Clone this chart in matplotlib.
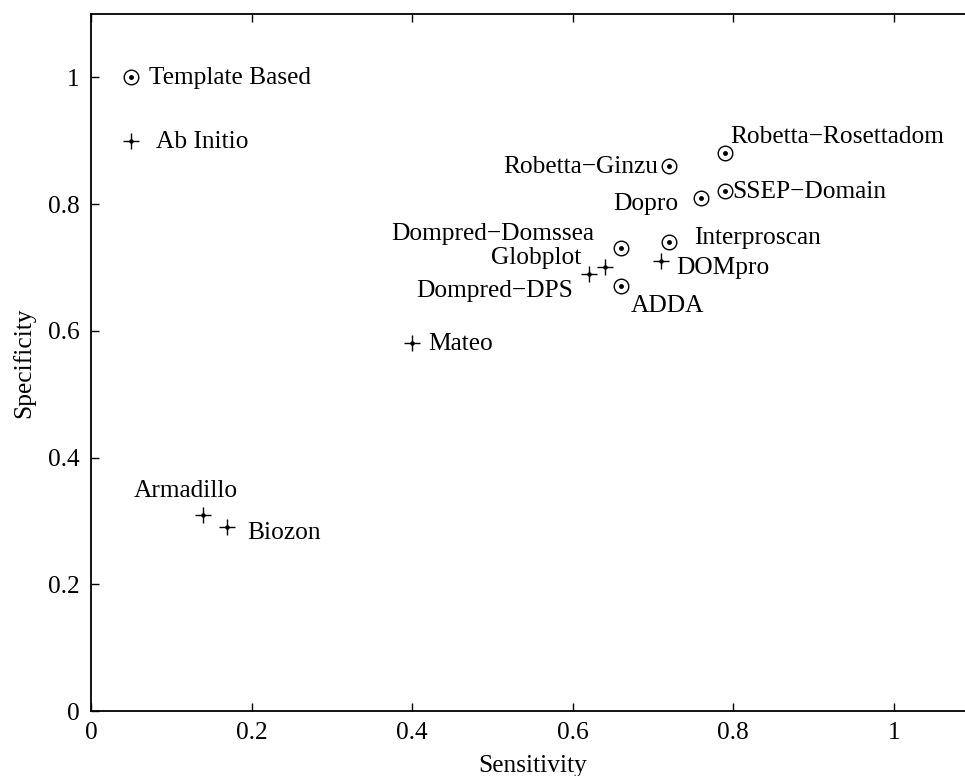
import matplotlib
matplotlib.use("Agg")
import matplotlib.pyplot as plt

plt.rcParams["font.family"] = ["Liberation Serif", "DejaVu Serif"]

# methods plotted with a dotted circle (template based)
tb_names = ["Template Based", "Robetta\u2212Ginzu", "Robetta\u2212Rosettadom", "Dopro",
            "SSEP\u2212Domain", "Dompred\u2212Domssea", "Interproscan", "ADDA"]
tb_sens = [0.05, 0.72, 0.79, 0.76, 0.79, 0.66, 0.72, 0.66]
tb_spec = [1.00, 0.86, 0.88, 0.81, 0.82, 0.73, 0.74, 0.67]

# methods plotted with a plus (ab initio)
ai_names = ["Ab Initio", "Globplot", "Dompred\u2212DPS", "DOMpro", "Mateo",
            "Armadillo", "Biozon"]
ai_sens = [0.05, 0.64, 0.62, 0.71, 0.40, 0.14, 0.17]
ai_spec = [0.90, 0.70, 0.69, 0.71, 0.58, 0.31, 0.29]

# label offsets in pixels (dx, dy up) and horizontal alignment
tb_off = [(18, -1, "left"), (-11, -1, "right"), (5, 16, "left"), (-23, -6, "right"),
          (7, -1, "left"), (-27, 14, "right"), (25, 4, "left"), (10, -20, "left")]
ai_off = [(25, -1, "left"), (-23, 9, "right"), (-16, -17, "right"), (15, -7, "left"),
          (16, -1, "left"), (-18, 24, "center"), (20, -6, "left")]

px = 72 / 100
fs = 18.3

fig = plt.figure(figsize=(9.65, 7.76), dpi=100)
ax = fig.add_axes([91 / 965, 65 / 776, 883 / 965, 697 / 776])

ax.plot(tb_sens, tb_spec, "o", ms=10.5, mfc="none", mec="black", mew=1.0, ls="none")
ax.plot(tb_sens, tb_spec, ".", ms=5, color="black", ls="none")
ax.plot(ai_sens, ai_spec, "+", ms=11, mew=1.0, color="black", ls="none")
ax.plot(ai_sens, ai_spec, ".", ms=4.5, color="black", ls="none")

for names, xs, ys, offs in [(tb_names, tb_sens, tb_spec, tb_off),
                            (ai_names, ai_sens, ai_spec, ai_off)]:
    for n, x, y, (dx, dy, ha) in zip(names, xs, ys, offs):
        ax.annotate(n, (x, y), xytext=(dx * px, dy * px), textcoords="offset points",
                    ha=ha, va="center", fontsize=fs)

ax.set_xlim(0, 1.1)
ax.set_ylim(0, 1.1)
ax.set_xticks([0, 0.2, 0.4, 0.6, 0.8, 1])
ax.set_yticks([0, 0.2, 0.4, 0.6, 0.8, 1])
ax.set_xticklabels(["0", "0.2", "0.4", "0.6", "0.8", "1"])
ax.set_yticklabels(["0", "0.2", "0.4", "0.6", "0.8", "1"])
ax.tick_params(direction="in", length=6, width=1.0, top=True, right=True,
               labelsize=fs, pad=8)
for s in ax.spines.values():
    s.set_linewidth(1.3)
ax.set_xlabel("Sensitivity", fontsize=fs, labelpad=8)
ax.set_ylabel("Specificity", fontsize=fs, labelpad=9)

fig.savefig("out.png", dpi=100)
